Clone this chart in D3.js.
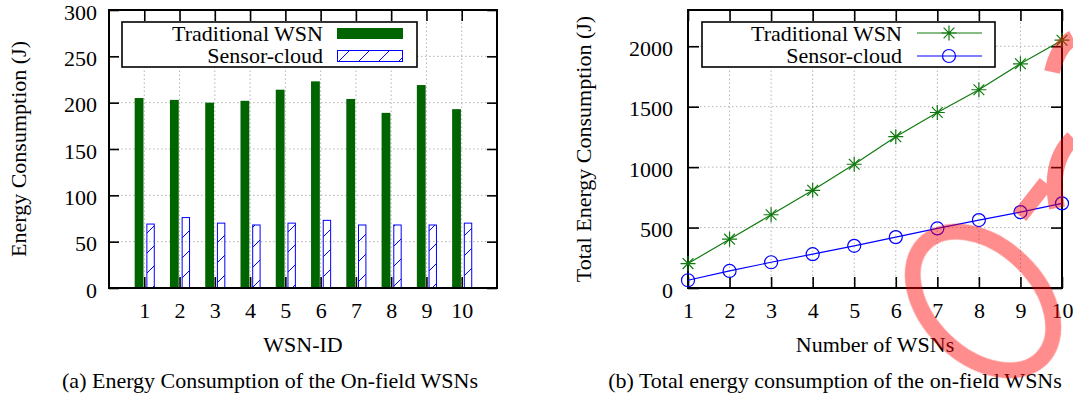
<!DOCTYPE html>
<html>
<head>
<meta charset="utf-8">
<title>Energy consumption - WSN vs Sensor-cloud</title>
<script src="https://d3js.org/d3.v7.min.js"></script>
<style>
  body { margin: 0; background: #fff; }
  text { font-family: "Liberation Serif", "Times New Roman", serif; font-size: 22px; fill: #000; }
  .grid line { stroke: #b4b4b4; stroke-width: 1; stroke-dasharray: 1.5,2.5; }
  .ax path { display: none; }
  .ax line { stroke: #000; stroke-width: 1.6; }
  .ax text { font-family: "Liberation Serif", "Times New Roman", serif; font-size: 22px; }
</style>
</head>
<body>
<div id="chart"></div>
<script>
// data
const wsnIds = [1, 2, 3, 4, 5, 6, 7, 8, 9, 10];
const traditionalEnergy = [205, 203, 200, 202, 214, 223, 204, 189, 219, 193];
const sensorCloudEnergy = [69, 76, 70, 68, 70, 73, 68, 68, 68, 70];
const energyTicks = [0, 50, 100, 150, 200, 250, 300];

const numWsns = [1, 2, 3, 4, 5, 6, 7, 8, 9, 10];
const traditionalTotal = [202, 404, 606, 808, 1024, 1252, 1452, 1640, 1855, 2050];
const sensorCloudTotal = [64, 141, 213, 280, 349, 421, 493, 562, 628, 700];
const totalTicks = [0, 500, 1000, 1500, 2000];

const seriesNames = ["Traditional WSN", "Sensor-cloud"];

const W = 1073, H = 405;
let svg = d3.select("#chart").append("svg")
    .attr("width", W).attr("height", H);

let defs = svg.append("defs");
let hatch = defs.append("pattern")
    .attr("id", "hatch")
    .attr("patternUnits", "userSpaceOnUse")
    .attr("width", 20).attr("height", 20);
hatch.append("line")
    .attr("x1", 0).attr("y1", 20).attr("x2", 20).attr("y2", 0)
    .attr("stroke", "#0000ff").attr("stroke-width", 1);
hatch.append("line")
    .attr("x1", -2).attr("y1", 2).attr("x2", 2).attr("y2", -2)
    .attr("stroke", "#0000ff").attr("stroke-width", 1);
hatch.append("line")
    .attr("x1", 18).attr("y1", 22).attr("x2", 22).attr("y2", 18)
    .attr("stroke", "#0000ff").attr("stroke-width", 1);

const plotTop = 10, plotBottom = 288;
const fmt = d3.format("d");

// ---------- (a) bar chart ----------
let xA = d3.scaleLinear().domain([0, 11]).range([109, 497]);
let yA = d3.scaleLinear().domain([0, 300]).range([plotBottom, plotTop]);

let gA = svg.append("g");

gA.append("g").attr("class", "grid")
    .selectAll("line").data(energyTicks.slice(1, -1)).enter().append("line")
    .attr("x1", xA(0)).attr("x2", xA(11))
    .attr("y1", d => yA(d)).attr("y2", d => yA(d));
gA.append("g").attr("class", "grid")
    .selectAll("line").data(wsnIds).enter().append("line")
    .attr("x1", d => xA(d)).attr("x2", d => xA(d))
    .attr("y1", yA(0)).attr("y2", yA(300));

gA.selectAll("rect.trad").data(wsnIds).enter().append("rect")
    .attr("class", "trad")
    .attr("x", d => xA(d) - 9.6)
    .attr("width", 8.8)
    .attr("y", (d, i) => yA(traditionalEnergy[i]))
    .attr("height", (d, i) => yA(0) - yA(traditionalEnergy[i]))
    .attr("fill", "#006400");

gA.selectAll("rect.cloud").data(wsnIds).enter().append("rect")
    .attr("class", "cloud")
    .attr("x", d => xA(d) + 2.6)
    .attr("width", 7.4)
    .attr("y", (d, i) => yA(sensorCloudEnergy[i]))
    .attr("height", (d, i) => yA(0) - yA(sensorCloudEnergy[i]))
    .attr("fill", "url(#hatch)")
    .attr("stroke", "#0000ff").attr("stroke-width", 1);

gA.append("g").attr("class", "ax")
    .attr("transform", "translate(" + xA(0) + ",0)")
    .call(d3.axisLeft(yA).tickValues(energyTicks).tickFormat(fmt).tickSize(-10).tickPadding(12))
    .selectAll("text").attr("dy", "0.42em");
gA.append("g").attr("class", "ax")
    .attr("transform", "translate(" + xA(11) + ",0)")
    .call(d3.axisRight(yA).tickValues(energyTicks).tickSize(-10).tickFormat(""));
gA.append("g").attr("class", "ax")
    .attr("transform", "translate(0," + yA(0) + ")")
    .call(d3.axisBottom(xA).tickValues(wsnIds).tickFormat(fmt).tickSize(-11).tickPadding(14));
gA.append("g").attr("class", "ax")
    .attr("transform", "translate(0," + yA(300) + ")")
    .call(d3.axisTop(xA).tickValues(wsnIds).tickSize(-11).tickFormat(""));

gA.append("rect")
    .attr("x", xA(0)).attr("y", yA(300))
    .attr("width", xA(11) - xA(0)).attr("height", yA(0) - yA(300))
    .attr("fill", "none").attr("stroke", "#000").attr("stroke-width", 2);

// legend (a)
let legA = gA.append("g");
legA.append("rect")
    .attr("x", 122).attr("y", 22).attr("width", 295).attr("height", 45)
    .attr("fill", "#fff").attr("stroke", "#000").attr("stroke-width", 1.6);
legA.append("text").attr("x", 323).attr("y", 41).attr("text-anchor", "end").text(seriesNames[0]);
legA.append("text").attr("x", 323).attr("y", 63).attr("text-anchor", "end").text(seriesNames[1]);
legA.append("rect").attr("x", 337).attr("y", 28).attr("width", 66).attr("height", 11)
    .attr("fill", "#006400");
legA.append("rect").attr("x", 337.5).attr("y", 50.5).attr("width", 65).attr("height", 11)
    .attr("fill", "url(#hatch)").attr("stroke", "#0000ff").attr("stroke-width", 1);

gA.append("text")
    .attr("transform", "translate(26," + ((plotTop + plotBottom) / 2) + ") rotate(-90)")
    .attr("text-anchor", "middle")
    .text("Energy Consumption (J)");
gA.append("text")
    .attr("x", (xA(0) + xA(11)) / 2).attr("y", 352)
    .attr("text-anchor", "middle").text("WSN-ID");
gA.append("text")
    .attr("x", 270).attr("y", 388)
    .attr("text-anchor", "middle").text("(a) Energy Consumption of the On-field WSNs");

// ---------- (b) line chart ----------
let xB = d3.scaleLinear().domain([1, 10]).range([688, 1062]);
let yB = d3.scaleLinear().domain([0, 2300]).range([plotBottom, plotTop]);

let gB = svg.append("g");

gB.append("g").attr("class", "grid")
    .selectAll("line").data(totalTicks.slice(1)).enter().append("line")
    .attr("x1", xB(1)).attr("x2", xB(10))
    .attr("y1", d => yB(d)).attr("y2", d => yB(d));
gB.append("g").attr("class", "grid")
    .selectAll("line").data(numWsns.slice(1, -1)).enter().append("line")
    .attr("x1", d => xB(d)).attr("x2", d => xB(d))
    .attr("y1", yB(0)).attr("y2", yB(2300));

gB.append("g").attr("class", "ax")
    .attr("transform", "translate(" + xB(1) + ",0)")
    .call(d3.axisLeft(yB).tickValues(totalTicks).tickFormat(fmt).tickSize(-11).tickPadding(15))
    .selectAll("text").attr("dy", "0.42em");
gB.append("g").attr("class", "ax")
    .attr("transform", "translate(" + xB(10) + ",0)")
    .call(d3.axisRight(yB).tickValues(totalTicks).tickSize(-11).tickFormat(""));
gB.append("g").attr("class", "ax")
    .attr("transform", "translate(0," + yB(0) + ")")
    .call(d3.axisBottom(xB).tickValues(numWsns).tickFormat(fmt).tickSize(-11).tickPadding(14));
gB.append("g").attr("class", "ax")
    .attr("transform", "translate(0," + yB(2300) + ")")
    .call(d3.axisTop(xB).tickValues(numWsns).tickSize(-11).tickFormat(""));

gB.append("rect")
    .attr("x", xB(1)).attr("y", yB(2300))
    .attr("width", xB(10) - xB(1)).attr("height", yB(0) - yB(2300))
    .attr("fill", "none").attr("stroke", "#000").attr("stroke-width", 2);

const greenLine = "#107a10", blueLine = "#0000ff";

let lineTot = d3.line().x((d, i) => xB(numWsns[i])).y(d => yB(d));
gB.append("path").datum(traditionalTotal)
    .attr("d", lineTot).attr("fill", "none")
    .attr("stroke", greenLine).attr("stroke-width", 1.2);
gB.append("path").datum(sensorCloudTotal)
    .attr("d", lineTot).attr("fill", "none")
    .attr("stroke", blueLine).attr("stroke-width", 1.2);

function star(g, cx, cy, r) {
    let p = "M" + (cx - r) + "," + cy + "H" + (cx + r) +
        "M" + cx + "," + (cy - r) + "V" + (cy + r) +
        "M" + (cx - r * 0.72) + "," + (cy - r * 0.72) + "L" + (cx + r * 0.72) + "," + (cy + r * 0.72) +
        "M" + (cx - r * 0.72) + "," + (cy + r * 0.72) + "L" + (cx + r * 0.72) + "," + (cy - r * 0.72);
    g.append("path").attr("d", p).attr("stroke", greenLine).attr("stroke-width", 1.2).attr("fill", "none");
}

let markers = gB.append("g");
traditionalTotal.forEach((v, i) => star(markers, xB(numWsns[i]), yB(v), 7.5));
markers.selectAll("circle").data(sensorCloudTotal).enter().append("circle")
    .attr("cx", (d, i) => xB(numWsns[i])).attr("cy", d => yB(d)).attr("r", 6.5)
    .attr("fill", "none").attr("stroke", blueLine).attr("stroke-width", 1.2);

// legend (b)
let legB = gB.append("g");
legB.append("rect")
    .attr("x", 702).attr("y", 22).attr("width", 293).attr("height", 45)
    .attr("fill", "#fff").attr("stroke", "#000").attr("stroke-width", 1.6);
legB.append("text").attr("x", 902).attr("y", 41).attr("text-anchor", "end").text(seriesNames[0]);
legB.append("text").attr("x", 902).attr("y", 63).attr("text-anchor", "end").text(seriesNames[1]);
legB.append("line").attr("x1", 917).attr("x2", 982).attr("y1", 33).attr("y2", 33)
    .attr("stroke", greenLine).attr("stroke-width", 1.2);
star(legB, 949, 33, 7.5);
legB.append("line").attr("x1", 917).attr("x2", 982).attr("y1", 56).attr("y2", 56)
    .attr("stroke", blueLine).attr("stroke-width", 1.2);
legB.append("circle").attr("cx", 949).attr("cy", 56).attr("r", 6.5)
    .attr("fill", "none").attr("stroke", blueLine).attr("stroke-width", 1.2);

gB.append("text")
    .attr("transform", "translate(591," + ((plotTop + plotBottom) / 2) + ") rotate(-90)")
    .attr("text-anchor", "middle")
    .text("Total Energy Consumption (J)");
gB.append("text")
    .attr("x", (xB(1) + xB(10)) / 2).attr("y", 352)
    .attr("text-anchor", "middle").text("Number of WSNs");
gB.append("text")
    .attr("x", 835).attr("y", 388)
    .attr("text-anchor", "middle").text("(b) Total energy consumption of the on-field WSNs");

// red stamp over the right corner
let stamp = svg.append("g").attr("opacity", 0.45)
    .attr("fill", "none").attr("stroke", "#ff0000").attr("stroke-width", 16);
stamp.append("ellipse")
    .attr("cx", 0).attr("cy", 0).attr("rx", 82).attr("ry", 55)
    .attr("transform", "translate(983,301) rotate(44)");
stamp.append("path").attr("d", "M1020,216 L1046,183");
stamp.append("path").attr("d", "M1057,208 Q1048,162 1073,138");
stamp.append("path").attr("d", "M1052,72 Q1058,46 1073,38");
</script>
</body>
</html>
